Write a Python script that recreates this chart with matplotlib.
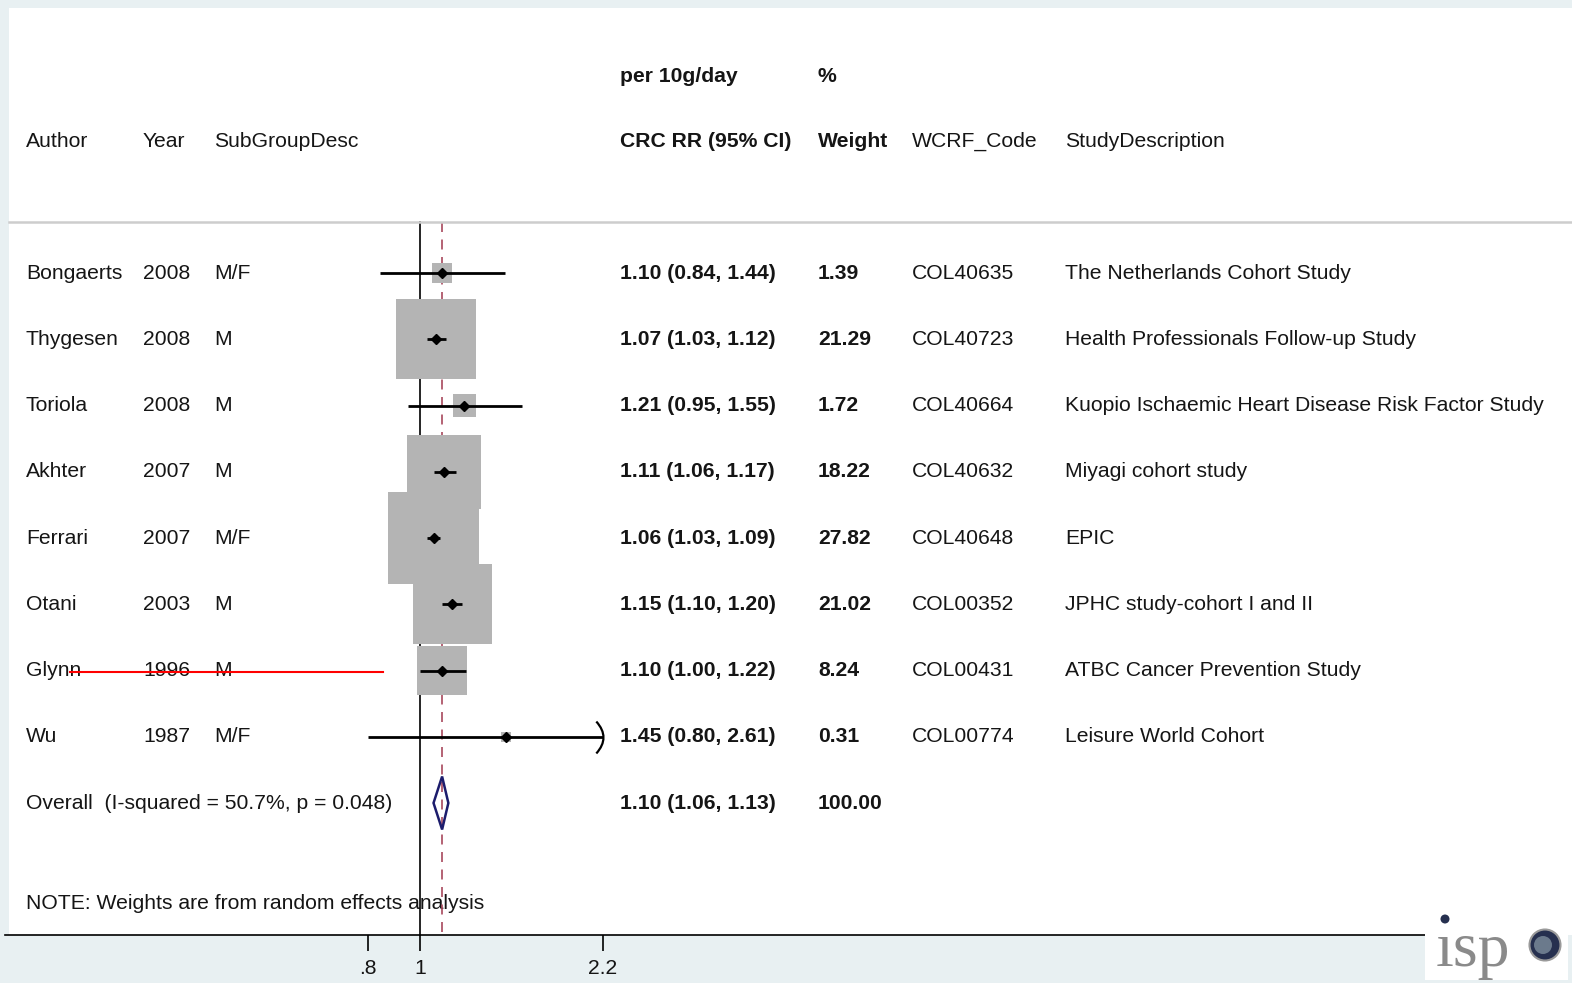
import matplotlib
matplotlib.use('Agg')
import matplotlib.pyplot as plt
import matplotlib.transforms as mtransforms
from matplotlib.patches import Rectangle, Circle
from matplotlib.path import Path
import numpy as np

# study data
authors = ['Bongaerts', 'Thygesen', 'Toriola', 'Akhter', 'Ferrari', 'Otani', 'Glynn', 'Wu']
years = ['2008', '2008', '2008', '2007', '2007', '2003', '1996', '1987']
subgroups = ['M/F', 'M', 'M', 'M', 'M/F', 'M', 'M', 'M/F']
rr = [1.10, 1.07, 1.21, 1.11, 1.06, 1.15, 1.10, 1.45]
ci_lo = [0.84, 1.03, 0.95, 1.06, 1.03, 1.10, 1.00, 0.80]
ci_hi = [1.44, 1.12, 1.55, 1.17, 1.09, 1.20, 1.22, 2.61]
weights = [1.39, 21.29, 1.72, 18.22, 27.82, 21.02, 8.24, 0.31]
codes = ['COL40635', 'COL40723', 'COL40664', 'COL40632', 'COL40648', 'COL00352', 'COL00431', 'COL00774']
descs = ['The Netherlands Cohort Study', 'Health Professionals Follow-up Study',
         'Kuopio Ischaemic Heart Disease Risk Factor Study', 'Miyagi cohort study',
         'EPIC', 'JPHC study-cohort I and II', 'ATBC Cancer Prevention Study',
         'Leisure World Cohort']

# pooled estimate
overall_rr, overall_lo, overall_hi = 1.10, 1.06, 1.13
overall_weight = 100.00
i_squared, p_het = 50.7, 0.048

ticks = [0.8, 1, 2.2]
tick_labels = ['.8', '1', '2.2']

W, H = 1572, 983
def fx(px):
    return px / W

plt.rcParams['font.family'] = ['Liberation Sans', 'DejaVu Sans']
FS = 15.2
TXT = '#151515'

fig = plt.figure(figsize=(W / 100, H / 100), dpi=100, facecolor='#e8f0f2')
# white panel
fig.add_artist(Rectangle((fx(9), (H - 935) / H), 1 - fx(9), (935 - 8) / H,
                         transform=fig.transFigure, facecolor='white', lw=0, zorder=-5))

ax = fig.add_axes([0, 0, 1, 1])
ax.set_xscale('log')
k = 232.0  # pixels per ln unit
ax.set_xlim(np.exp(-420 / k), np.exp((W - 420) / k))
ax.set_ylim((H - 273) / 66.25, -273 / 66.25)
ax.axis('off')
ax.patch.set_visible(False)

trans = mtransforms.blended_transform_factory(fig.transFigure, ax.transData)
n = len(authors)
ypos = np.arange(n)
y_sep = -0.77
y_axis = 9.99

# header
ax.text(fx(620), -2.97, 'per 10g/day', transform=trans, va='center', fontsize=FS, fontweight='bold', color=TXT)
ax.text(fx(818), -2.97, '%', transform=trans, va='center', fontsize=FS, fontweight='bold', color=TXT)
hdr = [(26, 'Author', 'normal'), (143, 'Year', 'normal'), (214, 'SubGroupDesc', 'normal'),
       (620, 'CRC RR (95% CI)', 'bold'), (818, 'Weight', 'bold'),
       (912, 'WCRF_Code', 'normal'), (1065, 'StudyDescription', 'normal')]
for x, s, fw in hdr:
    ax.text(fx(x), -1.99, s, transform=trans, va='center', fontsize=FS, fontweight=fw, color=TXT)
ax.plot([fx(9), 1], [y_sep, y_sep], transform=trans, color='#cdcdcd', lw=1.8)

# reference lines
ax.plot([1, 1], [y_sep, y_axis], color='black', lw=1.2, zorder=1)
ax.plot([overall_rr, overall_rr], [y_sep, y_axis], color='#a8485c', lw=1.2,
        ls=(0, (6, 4.5)), zorder=1)

# weight boxes, CIs, point estimates
ax.scatter(rr, ypos, s=np.array(weights) * 156, marker='s', color='#b4b4b4', lw=0, zorder=2)
x_max = max(ticks)
ax.hlines(ypos, ci_lo, np.minimum(ci_hi, x_max), color='black', lw=2.0, zorder=3)
ax.plot(rr, ypos, 'D', ms=5.5, color='black', zorder=4)
clipped = [i for i in range(n) if ci_hi[i] > x_max]
arrow = Path([(-0.45, 1), (0.45, 0), (-0.45, -1)], [Path.MOVETO, Path.CURVE3, Path.CURVE3])
ax.plot([x_max] * len(clipped), ypos[clipped], ls='none', marker=arrow, ms=23,
        mfc='none', mec='black', mew=1.6, zorder=4)

# overall diamond
ax.fill([overall_lo, overall_rr, overall_hi, overall_rr], [n, n - 0.4, n, n + 0.4],
        facecolor='none', edgecolor='#1c1c6c', lw=1.8, zorder=4)

# row texts
for i in range(n):
    y = ypos[i]
    ax.text(fx(26), y, authors[i], transform=trans, va='center', fontsize=FS, color=TXT)
    ax.text(fx(143), y, years[i], transform=trans, va='center', fontsize=FS, color=TXT)
    ax.text(fx(214), y, subgroups[i], transform=trans, va='center', fontsize=FS, color=TXT)
    ax.text(fx(620), y, f'{rr[i]:.2f} ({ci_lo[i]:.2f}, {ci_hi[i]:.2f})', transform=trans,
            va='center', fontsize=FS, fontweight='bold', color=TXT)
    ax.text(fx(818), y, f'{weights[i]:.2f}', transform=trans, va='center', fontsize=FS,
            fontweight='bold', color=TXT)
    ax.text(fx(912), y, codes[i], transform=trans, va='center', fontsize=FS, color=TXT)
    ax.text(fx(1065), y, descs[i], transform=trans, va='center', fontsize=FS, color=TXT)

ax.text(fx(26), n, f'Overall  (I-squared = {i_squared:.1f}%, p = {p_het:.3f})', transform=trans,
        va='center', fontsize=FS, color=TXT)
ax.text(fx(620), n, f'{overall_rr:.2f} ({overall_lo:.2f}, {overall_hi:.2f})', transform=trans,
        va='center', fontsize=FS, fontweight='bold', color=TXT)
ax.text(fx(818), n, f'{overall_weight:.2f}', transform=trans, va='center', fontsize=FS,
        fontweight='bold', color=TXT)

ax.text(fx(26), 9.51, 'NOTE: Weights are from random effects analysis', transform=trans,
        va='center', fontsize=FS, color=TXT, zorder=0)

# strike-through over Glynn
ax.plot([fx(70), fx(383)], [6.03, 6.03], transform=trans, color='red', lw=1.5, zorder=5)

# x axis
ax.plot([fx(5), fx(1425)], [y_axis, y_axis], transform=trans, color='black', lw=1.2)
ax.vlines(ticks, y_axis, 10.24, color='black', lw=1.2)
for t, lbl in zip(ticks, tick_labels):
    ax.text(t, 10.5, lbl, ha='center', va='center', fontsize=FS, color=TXT)

# isp logo (dotless i + navy dot)
fig.add_artist(Rectangle((fx(1425), (H - 980) / H), fx(1568) - fx(1425), 75 / H,
                         transform=fig.transFigure, facecolor='white', lw=0, zorder=6))
fig.text(fx(1436), (H - 966) / H, '\u0131sp', fontsize=46, color='#8a8a8a', zorder=7,
         family=['Liberation Serif', 'DejaVu Serif'])
inch = fig.dpi_scale_trans
fig.add_artist(Circle((15.45, (H - 945) / 100), 0.155, transform=inch,
                      facecolor='#26304f', edgecolor='#9a9a9a', lw=1.5, zorder=7))
fig.add_artist(Circle((15.43, (H - 945) / 100), 0.09, transform=inch,
                      facecolor='#6b7a8c', lw=0, zorder=8))
fig.add_artist(Circle((14.45, (H - 919) / 100), 0.045, transform=inch,
                      facecolor='#26304f', lw=0, zorder=8))

fig.savefig('out.png', dpi=100, facecolor=fig.get_facecolor())
